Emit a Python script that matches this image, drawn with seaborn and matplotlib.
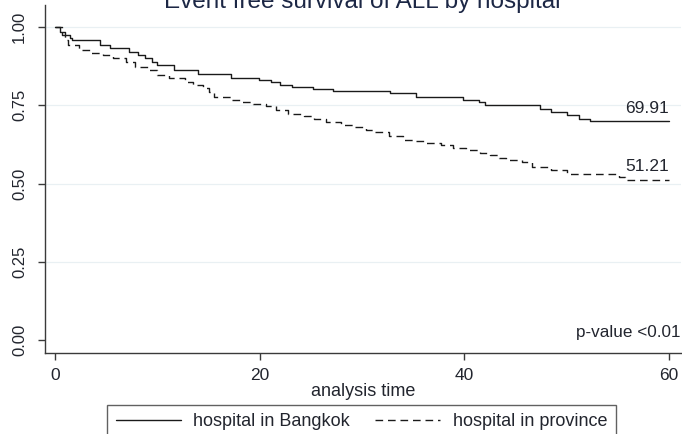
import matplotlib
matplotlib.use("Agg")
import matplotlib.pyplot as plt
import seaborn as sns
import pandas as pd

# Kaplan-Meier step estimates (event-free survival) by hospital group
bkk_time = [0, 0.5, 1.0, 1.5, 1.7, 4.4, 5.4, 7.2, 8.1, 8.8, 9.5, 10.0, 11.6, 14.0, 17.2,
            19.9, 21.1, 22.0, 23.2, 25.2, 27.2, 32.7, 35.3, 39.9, 41.4, 42.0, 47.4, 48.5,
            50.0, 51.2, 52.3, 60]
bkk_surv = [1.0, 0.985, 0.974, 0.964, 0.958, 0.942, 0.932, 0.921, 0.910, 0.900, 0.889,
            0.880, 0.862, 0.850, 0.838, 0.830, 0.823, 0.816, 0.809, 0.802, 0.796, 0.790,
            0.777, 0.768, 0.759, 0.751, 0.739, 0.729, 0.718, 0.707, 0.6991, 0.6991]

prv_time = [0, 0.7, 1.0, 1.3, 2.3, 3.4, 4.7, 5.7, 6.9, 7.8, 9.1, 10.0, 11.1, 12.7, 13.5,
            14.5, 15.0, 15.5, 17.2, 18.1, 19.3, 20.6, 21.6, 22.8, 24.3, 25.3, 26.5, 27.9,
            29.2, 30.4, 31.1, 32.6, 34.0, 35.0, 36.3, 37.7, 38.9, 40.2, 41.5, 42.5, 43.4,
            44.1, 45.6, 46.6, 48.5, 50.0, 55.1, 55.7, 60]
prv_surv = [1.0, 0.974, 0.958, 0.942, 0.926, 0.918, 0.912, 0.900, 0.889, 0.873, 0.862,
            0.848, 0.836, 0.825, 0.814, 0.804, 0.793, 0.777, 0.768, 0.761, 0.755, 0.748,
            0.734, 0.723, 0.715, 0.705, 0.697, 0.688, 0.679, 0.672, 0.664, 0.651, 0.640,
            0.635, 0.629, 0.622, 0.613, 0.606, 0.597, 0.590, 0.582, 0.576, 0.568, 0.554,
            0.544, 0.531, 0.520, 0.5121, 0.5121]

group_labels = ["hospital in Bangkok", "hospital in province"]
x_ticks = [0, 20, 40, 60]
y_ticks = [0.00, 0.25, 0.50, 0.75, 1.00]
title_text = "Event free survival of ALL by hospital"
x_label = "analysis time"
p_text = "p-value <0.01"

bkk = pd.DataFrame({"time": bkk_time, "surv": bkk_surv, "group": group_labels[0]})
prv = pd.DataFrame({"time": prv_time, "surv": prv_surv, "group": group_labels[1]})

sns.set_style("white")
plt.rcParams["font.family"] = ["Liberation Sans", "DejaVu Sans"]

W, H = 682, 434
fig = plt.figure(figsize=(W / 100, H / 100), dpi=100)
ax = fig.add_axes([45 / W, 1 - 353 / H, 636 / W, 348 / H])

ink = "#1a1a1a"
txt = "#22252e"

sns.lineplot(data=bkk, x="time", y="surv", ax=ax, estimator=None, sort=True,
             drawstyle="steps-post", color=ink, linewidth=1.0,
             label=group_labels[0], legend=False)
sns.lineplot(data=prv, x="time", y="surv", ax=ax, estimator=None, sort=True,
             drawstyle="steps-post", color=ink, linewidth=1.0,
             dashes=False, label=group_labels[1], legend=False)
ax.lines[1].set_dashes((5.5, 3.5))

ax.set_xlim(-0.977, 61.17)
ax.set_ylim(-0.0415, 1.0703)

# light horizontal grid at the upper ticks
for yv in y_ticks[1:]:
    ax.axhline(yv, color="#e9f0f3", linewidth=0.9, zorder=0)

ax.set_xticks(x_ticks)
ax.set_xticklabels([str(v) for v in x_ticks])
ax.set_yticks(y_ticks)
ax.set_yticklabels([f"{v:.2f}" for v in y_ticks], rotation=90, va="center")

for s in ["top", "right"]:
    ax.spines[s].set_visible(False)
for s in ["left", "bottom"]:
    ax.spines[s].set_color("#3a3a3a")
    ax.spines[s].set_linewidth(1.0)

ax.tick_params(axis="both", which="major", direction="out", length=5, width=1.0,
               color="#3a3a3a", labelcolor=txt, labelsize=12.5, left=True, bottom=True)
ax.tick_params(axis="y", pad=8, labelsize=12)
ax.tick_params(axis="x", pad=6)

ax.set_xlabel(x_label, fontsize=13, color=txt, labelpad=0)
ax.set_ylabel("")

# end-of-curve survival percentages
for times, surv in [(bkk_time, bkk_surv), (prv_time, prv_surv)]:
    ax.annotate(f"{surv[-1] * 100:.2f}", xy=(times[-1], surv[-1]),
                xytext=(0, 4), textcoords="offset points",
                ha="right", va="bottom", fontsize=12.5, color=txt)

ax.text(61.1, 0.0, p_text, ha="right", va="bottom", fontsize=12.3, color=txt,
        transform=ax.transData)

fig.text(362 / W, 1 - 8 / H, title_text, ha="center", va="baseline",
         fontsize=17.5, color="#1c2745")

handles = ax.lines[:2]
leg = fig.legend(handles, group_labels, loc="upper center",
                 bbox_to_anchor=(361.5 / W, 1 - 405 / H), ncol=2,
                 frameon=True, fancybox=False, fontsize=13,
                 handlelength=3.6, handletextpad=0.7, columnspacing=1.4,
                 borderpad=0.45, borderaxespad=0)
leg.get_frame().set_edgecolor("#3a3a3a")
leg.get_frame().set_linewidth(1.0)
for t in leg.get_texts():
    t.set_color(txt)

fig.savefig("out.png", dpi=100)
